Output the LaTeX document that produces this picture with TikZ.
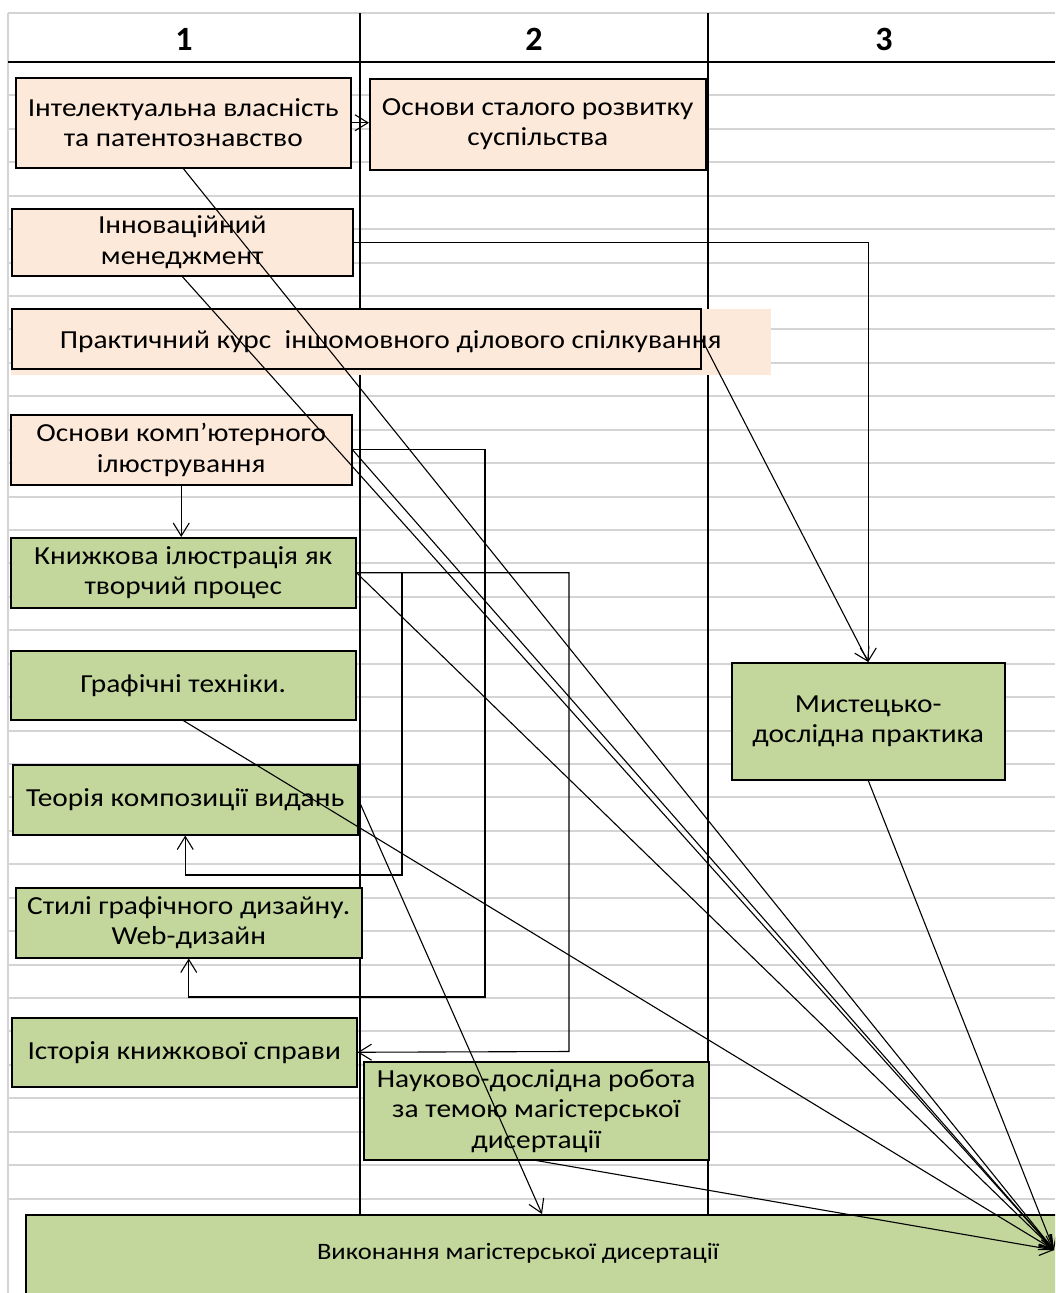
\documentclass[tikz,border=0pt]{standalone}
\usepackage{fontspec}
\setmainfont{Carlito}[FakeStretch=1.13]
\newfontfamily\headfont{Carlito}
\usetikzlibrary{arrows.meta,calc}
\definecolor{peach}{RGB}{253,233,217}
\definecolor{olive}{RGB}{195,214,155}
\definecolor{gridgray}{RGB}{212,212,212}
\begin{document}
\begin{tikzpicture}[x=1pt,y=-1pt,
  box/.style={draw=black, line width=1.5pt, inner sep=0pt, align=center, anchor=north west, font=\fontsize{26}{30.5}\selectfont},
  peachbox/.style={box, fill=peach},
  greenbox/.style={box, fill=olive},
  conn/.style={line width=1.1pt, -{Straight Barb[length=13pt,width=16pt]}},
  gridline/.style={gridgray, line width=2pt},
  divider/.style={black, line width=2pt},
  headtxt/.style={font=\headfont\fontsize{34}{40}\selectfont\bfseries, inner sep=0pt}]
\useasboundingbox (0,0) rectangle (1055,1293);
\clip (0,0) rectangle (1055,1293);
% sheet grid
\draw[gridline] (8,13) -- (1055,13);
\draw[gridline] (8,13) -- (8,1293);
\foreach \k in {1,...,34} \draw[gridline] (8,{62+33.43*\k}) -- (1055,{62+33.43*\k});
\draw[divider] (360,13) -- (360,1214);
\draw[divider] (708,13) -- (708,1214);
\draw[black, line width=2.5pt] (8,62) -- (1055,62);
% header
\node[headtxt] (h1) at (184,39) {1};
\node[headtxt] (h2) at (534,39) {2};
\node[headtxt] (h3) at (884,39) {3};
% boxes
\node[peachbox, minimum width=335pt, minimum height=90pt] (A) at (15,77) {Інтелектуальна власність\\та патентознавство};
\node[peachbox, minimum width=336pt, minimum height=91pt] (B) at (369,78) {Основи сталого розвитку\\суспільства};
\node[peachbox, minimum width=341pt, minimum height=67pt] (C) at (11,208) {Інноваційний\\менеджмент};
\node[box, draw=none, fill=peach, minimum width=760pt, minimum height=66pt] (Dt) at (10,308) {Практичний курс\ \ іншомовного ділового спілкування};
\node[box, minimum width=689pt, minimum height=60pt] (D) at (11,308) {};
\node[peachbox, minimum width=341pt, minimum height=70pt] (E) at (10,414) {Основи комп’ютерного\\ілюстрування};
\node[greenbox, minimum width=345pt, minimum height=70pt] (F) at (10,537) {Книжкова ілюстрація як\\творчий процес};
\node[greenbox, minimum width=345pt, minimum height=69pt] (G) at (10,650) {Графічні техніки.};
\node[greenbox, minimum width=345pt, minimum height=70pt] (H) at (12,764) {Теорія композиції видань};
\node[greenbox, minimum width=346pt, minimum height=70pt] (I) at (15,887) {Стилі графічного дизайну.\\Web-дизайн};
\node[greenbox, minimum width=345pt, minimum height=69pt] (J) at (11,1017) {Історія книжкової справи};
\node[greenbox, minimum width=345pt, minimum height=98pt] (K) at (363,1061) {Науково-дослідна робота\\за темою магістерської\\дисертації};
\node[greenbox, minimum width=273pt, minimum height=117pt] (M) at (731,662) {Мистецько-\\дослідна практика};
\node[greenbox, minimum width=1050pt, minimum height=100pt] (L) at (25,1214) {};
\node[font=\fontsize{23.5}{27}\selectfont, inner sep=0pt] (Lt) at (518,1253) {Виконання магістерської дисертації};
% connectors
\coordinate (T) at (1054,1250);
\coordinate (Lin) at ($(L.north west)+(517,0)$);
\draw[conn] (A.east) -- (A.east -| B.west);
\draw[conn] (C.east) -| (M.north);
\draw[conn] (D.east) -- (M.north);
\draw[conn] (E.south) -- (E.south |- F.north);
\draw[conn] (E.east) -| (485,997) -| (I.south);
\draw[conn] (F.east) -| (402,875) -| (H.south);
\draw[conn] (F.east) -| (569,1051.5) -- (J.east);
\draw[conn] (H.east) -- (Lin);
\foreach \s in {A.south, C.south, E.east, F.east, G.south, K.south, M.south}
  \draw[conn] (\s) -- (T);
\end{tikzpicture}
\end{document}
